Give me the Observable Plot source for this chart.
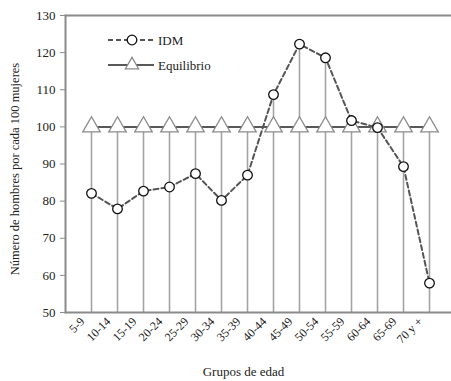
<!DOCTYPE html>
<html><head><meta charset="utf-8">
<script src="https://cdn.jsdelivr.net/npm/d3@7"></script>
<script src="https://cdn.jsdelivr.net/npm/@observablehq/plot@0.6"></script>
<style>
body{margin:0;background:#fff;}
#wrap{position:relative;width:451px;height:381px;font-family:"Liberation Serif","Times New Roman",serif;}
#legend{position:absolute;left:0;top:0;}
</style></head>
<body><div id="wrap"></div>
<script>
const groups = ["5-9","10-14","15-19","20-24","25-29","30-34","35-39","40-44","45-49","50-54","55-59","60-64","65-69","70 y +"];
const idm = [82.1,77.9,82.7,83.8,87.4,80.2,87.0,108.7,122.3,118.6,101.7,99.8,89.3,57.9];
const equilibrio = [100,100,100,100,100,100,100,100,100,100,100,100,100,100];
const yTicks = [50,60,70,80,90,100,110,120,130];
const legendLabels = ["IDM","Equilibrio"];

const rows = groups.map((g,i)=>({g, idm: idm[i], eq: equilibrio[i], top: Math.max(idm[i], equilibrio[i])}));
const serif = '"Liberation Serif","Times New Roman",serif';

const chart = Plot.plot({
  width: 451, height: 381,
  marginLeft: 65, marginTop: 15, marginBottom: 69, marginRight: 0,
  style: {fontFamily: serif, fontSize: "12px", color: "#222", background: "#fff"},
  x: {type: "point", domain: groups, range: [78, 442], label: null},
  y: {domain: [50,130], label: null},
  marks: [
    Plot.ruleX(rows, {x: "g", y1: 50, y2: "top", stroke: "#a3a3a3", strokeWidth: 1.6}),
    Plot.ruleY([yTicks[yTicks.length-1]], {stroke: "#8a8a8a", strokeWidth: 2}),
    Plot.ruleY([yTicks[0]], {stroke: "#8a8a8a", strokeWidth: 2}),
    Plot.frame({anchor: "left", stroke: "#8a8a8a", strokeWidth: 2}),
    Plot.line(rows, {x: "g", y: "eq", stroke: "#222", strokeWidth: 1.5}),
    Plot.dot(rows, {x: "g", y: "eq", symbol: "triangle", r: 6.5, stroke: "#8a8a8a", fill: "#fff", strokeWidth: 1.3}),
    Plot.line(rows, {x: "g", y: "idm", stroke: "#555", strokeWidth: 2, strokeDasharray: "5,3"}),
    Plot.dot(rows, {x: "g", y: "idm", r: 4.8, stroke: "#111", fill: "#fff", strokeWidth: 1.3}),
    Plot.axisY({ticks: yTicks, tickSize: 5, tickPadding: 5, stroke: "#8a8a8a", fontSize: 13, label: null}),
    Plot.axisX({tickSize: 0, tickPadding: 6, tickRotate: -45, fontSize: 12, dx: -9, dy: 1, label: null}),
    Plot.text(["Grupos de edad"], {frameAnchor: "bottom", dx: -15, dy: 63, fontSize: 13, fill: "#222"}),
    Plot.text(["Número de hombres por cada 100 mujeres"], {frameAnchor: "left", textAnchor: "middle", dx: -51, dy: 5, rotate: -90, fontSize: 12.5, fill: "#222"})
  ]
});
document.getElementById("wrap").appendChild(chart);

// legend overlay
const svg = d3.select("#wrap").append("svg").attr("id","legend").attr("width",451).attr("height",381);
const items = [
  {label: legendLabels[0], y: 40, dash: "5,3", stroke: "#555", sw: 2, sym: "circle"},
  {label: legendLabels[1], y: 65, dash: null, stroke: "#222", sw: 1.5, sym: "triangle"}
];
items.forEach(it=>{
  svg.append("line").attr("x1",108).attr("x2",154).attr("y1",it.y).attr("y2",it.y)
    .attr("stroke",it.stroke).attr("stroke-width",it.sw).attr("stroke-dasharray",it.dash);
  if (it.sym==="circle") {
    svg.append("circle").attr("cx",132).attr("cy",it.y).attr("r",4.8).attr("fill","#fff").attr("stroke","#111").attr("stroke-width",1.3);
  } else {
    svg.append("path").attr("d",d3.symbol(d3.symbolTriangle, 75)()).attr("transform",`translate(132,${it.y})`)
      .attr("fill","#fff").attr("stroke","#8a8a8a").attr("stroke-width",1.3);
  }
  svg.append("text").attr("x",158).attr("y",it.y).attr("dy","0.35em").attr("font-size",13).attr("fill","#222")
    .attr("font-family",serif).text(it.label);
});
</script></body></html>
